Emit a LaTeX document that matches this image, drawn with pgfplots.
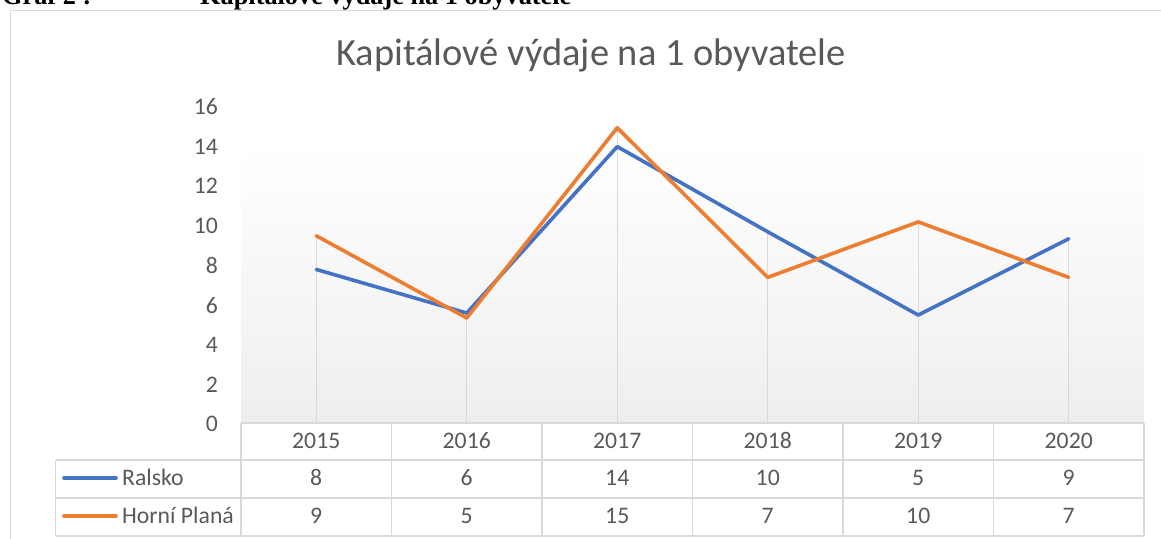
\documentclass[border=0pt]{standalone}
\usepackage{pgfplots}
\pgfplotsset{compat=1.18}
\usepackage{fontspec}
\setmainfont{Carlito}
\newfontfamily\headfont{Liberation Serif}
\definecolor{ralsko}{HTML}{4472C4}
\definecolor{horni}{HTML}{ED7D31}
\definecolor{txt}{HTML}{595959}
\definecolor{grd}{HTML}{D9D9D9}
\definecolor{bgb}{HTML}{EEEEEE}
\begin{document}
\begin{tikzpicture}
\path[use as bounding box] (0bp,0bp) rectangle (1161bp,539bp);
% outer chart border
\draw[grd, line width=1.2bp] (10.8bp,-5bp) -- (10.8bp,528.3bp) -- (1170bp,528.3bp);
% document header (cut off at top)
\node[anchor=base west, inner sep=0pt, font=\headfont\bfseries\fontsize{26.4}{30}\selectfont] at (2bp,534.3bp) {Graf 2 :};
\node[anchor=base west, inner sep=0pt, font=\headfont\bfseries\fontsize{26.4}{30}\selectfont] at (200bp,534.3bp) {Kapitálové výdaje na 1 obyvatele};
% title
\node[font=\fontsize{38.6}{44}\selectfont, text=txt] at (591bp,484bp) {Kapitálové výdaje na 1 obyvatele};

\begin{axis}[
  at={(241bp,115bp)}, anchor=south west,
  scale only axis, width=903bp, height=317bp,
  xmin=-0.5, xmax=5.5, ymin=0, ymax=16,
  ytick={0,2,...,16}, xtick=\empty,
  axis line style={draw=none}, major tick length=0pt,
  tick label style={font=\fontsize{23.8}{28}\selectfont, text=txt},
  /pgf/number format/assume math mode=true,
  yticklabel style={inner sep=0pt, xshift=-23bp},
  clip=false,
]
\shade[top color=white, bottom color=bgb] (axis cs:-0.5,0) rectangle (axis cs:5.5,14);
% drop lines (to the higher of both series)
\addplot[ycomb, grd, line width=1.4bp, mark=none] coordinates {(0,9.5)(1,5.6)(2,14.95)(3,9.7)(4,10.2)(5,9.35)};
% Ralsko
\addplot[ralsko, line width=3.6bp, mark=none, line join=round, line cap=round] coordinates {(0,7.8)(1,5.6)(2,14.0)(3,9.7)(4,5.5)(5,9.35)};
% Horní Planá
\addplot[horni, line width=3.6bp, mark=none, line join=round, line cap=round] coordinates {(0,9.5)(1,5.35)(2,14.95)(3,7.4)(4,10.2)(5,7.4)};
\end{axis}

% data table
\begin{scope}[grd, line width=1.3bp]
\draw (241bp,116bp) -- (1144bp,116bp);
\draw (55.5bp,79bp) -- (1144bp,79bp);
\draw (55.5bp,41bp) -- (1144bp,41bp);
\draw (55.5bp,3bp) -- (1144bp,3bp);
\draw (55.5bp,79bp) -- (55.5bp,3bp);
\foreach \k in {0,...,6} {\draw ({(241+150.5*\k)*1bp},116bp) -- ({(241+150.5*\k)*1bp},3bp);}
\end{scope}
\begin{scope}[font=\fontsize{23.8}{28}\selectfont, text=txt]
\foreach \y [count=\i from 0] in {2015,2016,2017,2018,2019,2020}
  {\node[anchor=base, inner sep=0pt] at ({(316.25+150.5*\i)*1bp},90.4bp) {\y};}
\foreach \v [count=\i from 0] in {8,6,14,10,5,9}
  {\node[anchor=base, inner sep=0pt] at ({(316.25+150.5*\i)*1bp},53.4bp) {\v};}
\foreach \v [count=\i from 0] in {9,5,15,7,10,7}
  {\node[anchor=base, inner sep=0pt] at ({(316.25+150.5*\i)*1bp},15.4bp) {\v};}
\draw[ralsko, line width=3.6bp, line cap=round] (64bp,61bp) -- (116bp,61bp);
\draw[horni, line width=3.6bp, line cap=round] (64bp,23bp) -- (116bp,23bp);
\node[anchor=base west, inner sep=0pt] at (122bp,53.4bp) {Ralsko};
\node[anchor=base west, inner sep=0pt] at (122bp,15.4bp) {Horní Planá};
\end{scope}
\end{tikzpicture}
\end{document}
